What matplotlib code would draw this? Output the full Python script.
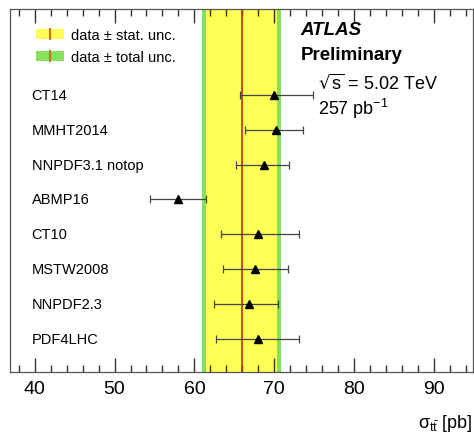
import matplotlib
matplotlib.use("Agg")
import matplotlib.pyplot as plt
from matplotlib.patches import Patch
from matplotlib.lines import Line2D
from matplotlib.legend_handler import HandlerTuple
from matplotlib.ticker import MultipleLocator

plt.rcParams["font.family"] = ["Liberation Sans", "DejaVu Sans"]

# ---- data ----
pdf_sets = ["CT14", "MMHT2014", "NNPDF3.1 notop", "ABMP16",
            "CT10", "MSTW2008", "NNPDF2.3", "PDF4LHC"]
pred_values = [70.0, 70.2, 68.7, 58.0, 67.95, 67.6, 66.8, 68.0]
pred_err_lo = [4.35, 3.9, 3.5, 3.5, 4.65, 4.0, 4.3, 5.25]
pred_err_hi = [4.9, 3.4, 3.2, 3.4, 5.15, 4.1, 3.7, 5.1]
meas_value = 65.9
meas_stat = 4.5
meas_total = 4.9
x_ticks = [40, 50, 60, 70, 80, 90]

fig = plt.figure(figsize=(4.74, 4.35), dpi=100)
ax = fig.add_axes([0.021, 0.1425, 0.977, 0.8345])

n = len(pdf_sets)
ypos = [n - 1 - i for i in range(n)]

green = "#86e05a"
yellow = "#ffff55"
red = "#cc2a10"

ax.axvspan(meas_value - meas_total, meas_value + meas_total, color=green, lw=0, zorder=1)
ax.axvspan(meas_value - meas_stat, meas_value + meas_stat, color=yellow, lw=0, zorder=1.5)
ax.axvline(meas_value, color=red, lw=1.2, zorder=1.8)

ax.errorbar(pred_values, ypos, xerr=[pred_err_lo, pred_err_hi], fmt="^",
            color="black", ms=6, ecolor="#444444", elinewidth=0.9,
            capsize=3, capthick=0.9, zorder=5)

trans = ax.get_yaxis_transform()
for name, y in zip(pdf_sets, ypos):
    ax.text(0.047, y, name, transform=trans, ha="left", va="center", fontsize=10.5)

ax.set_xlim(36.9, 94.9)
ax.set_ylim(-0.95, n - 1 + 2.46)
ax.set_xticks(x_ticks)
ax.xaxis.set_minor_locator(MultipleLocator(2))
ax.set_yticks([])
ax.tick_params(axis="x", which="major", direction="in", top=True, bottom=True,
               length=10, width=1.0, color="#333333", labelsize=14, pad=6,
               labelcolor="black")
ax.tick_params(axis="x", which="minor", direction="in", top=True, bottom=True,
               length=5, width=1.0, color="#333333")
for s in ax.spines.values():
    s.set_color("#555555")
    s.set_linewidth(0.9)

# legend
h_stat = (Patch(facecolor=yellow, edgecolor="none"),
          Line2D([], [], color="#d07020", marker="|", ls="none", ms=9, mew=1.5))
h_tot = (Patch(facecolor=green, edgecolor="none"),
         Line2D([], [], color="#d07020", marker="|", ls="none", ms=9, mew=1.5))
leg = ax.legend([h_stat, h_tot], ["data \u00b1 stat. unc.", "data \u00b1 total unc."],
                handler_map={tuple: HandlerTuple(ndivide=1, pad=0)},
                loc="upper left", bbox_to_anchor=(0.035, 0.975), frameon=False,
                prop={"size": 10.5},
                handlelength=1.9, handleheight=0.7, handletextpad=0.5,
                labelspacing=0.55, borderaxespad=0.3)

# ATLAS text
ax.text(0.628, 0.93, "ATLAS", transform=ax.transAxes, fontsize=13.5,
        fontweight="bold", fontstyle="italic")
ax.text(0.628, 0.862, "Preliminary", transform=ax.transAxes, fontsize=13.5,
        fontweight="bold")
ax.text(0.665, 0.782, r"$\sqrt{\mathregular{s}}$ = 5.02 TeV", transform=ax.transAxes,
        fontsize=13)
ax.text(0.665, 0.71, r"257 pb$^{\mathregular{-1}}$", transform=ax.transAxes,
        fontsize=13)

fig.text(0.997, 0.016, r"$\mathregular{\sigma_{t\bar{t}}}$ [pb]", ha="right",
         va="baseline", fontsize=13)

fig.savefig("out.png", dpi=100)
